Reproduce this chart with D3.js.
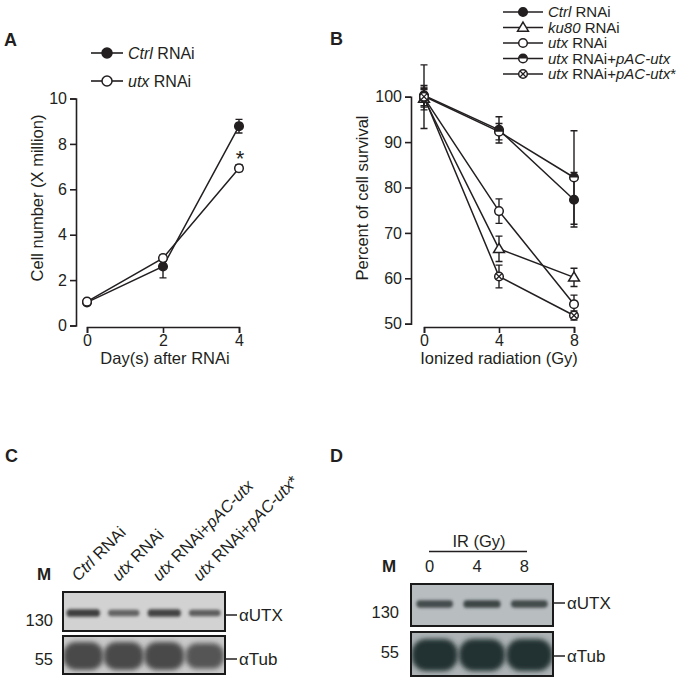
<!DOCTYPE html>
<html><head><meta charset="utf-8">
<script src="https://cdn.jsdelivr.net/npm/d3@7"></script>
<style>
body{margin:0;background:#fff;}
svg text{font-family:"Liberation Sans",Arial,sans-serif;fill:#231f20;}
</style></head><body>
<svg id="c" width="696" height="680"></svg>
<script>
// ---------- Panel A data ----------
const daysA = [0, 2, 4];
const ctrlA = [1.02, 2.6, 8.78];
const ctrlAErr = [0.05, 0.5, 0.3];
const utxA = [1.05, 2.97, 6.93];
const utxAErr = [0.05, 0.12, 0.15];
const yTicksA = [0, 2, 4, 6, 8, 10];
const xTicksA = [0, 2, 4];
const legendA = ["<i>Ctrl</i> RNAi", "<i>utx</i> RNAi"];

// ---------- Panel B data ----------
const doseB = [0, 4, 8];
const ctrlB = [100.3, 92.7, 77.3];
const ctrlBErr = [1.5, 2.9, 6.0];
const ku80B = [99.6, 66.5, 60.2];
const ku80BErr = [2.5, 2.8, 2.0];
const utxB = [99.8, 74.8, 54.3];
const utxBErr = [1.8, 2.7, 2.0];
const rescueB = [100.1, 92.3, 82.2];
const rescueBErr = [2.4, 1.8, 10.3];
const rescueMutB = [100.0, 60.4, 51.8];
const rescueMutBErr = [7.0, 2.5, 1.0];
const yTicksB = [50, 60, 70, 80, 90, 100];
const xTicksB = [0, 4, 8];
const legendB = ["<i>Ctrl</i> RNAi", "<i>ku80</i> RNAi", "<i>utx</i> RNAi", "<i>utx</i> RNAi+<i>pAC-utx</i>", "<i>utx</i> RNAi+<i>pAC-utx</i>*"];

// ---------- Panel C / D blot data ----------
const lanesC = ["<i>Ctrl</i> RNAi", "<i>utx</i> RNAi", "<i>utx</i> RNAi+<i>pAC-utx</i>", "<i>utx</i> RNAi+<i>pAC-utx</i>*"];
const utxBandC = [0.92, 0.6, 0.88, 0.65];
const tubBandC = [1.0, 1.0, 1.0, 0.8];
const lanesD = ["0", "4", "8"];
const utxBandD = [0.8, 0.88, 0.82];
const tubBandD = [1.0, 1.0, 1.0];
const markers = ["130", "55"];
const antibodies = ["\u03b1UTX", "\u03b1Tub"];

const svg = d3.select("#c");
const ink = "#231f20";
const defs = svg.append("defs");
defs.append("filter").attr("id", "blur").attr("x", "-50%").attr("y", "-50%").attr("width", "200%").attr("height", "200%")
  .append("feGaussianBlur").attr("stdDeviation", 1.8);
defs.append("filter").attr("id", "blur2").attr("x", "-50%").attr("y", "-50%").attr("width", "200%").attr("height", "200%")
  .append("feGaussianBlur").attr("stdDeviation", 2.5);

function rich(sel, str) {
  str.split(/(<i>[^<]*<\/i>)/).filter(s => s).forEach(s => {
    const it = s.startsWith("<i>");
    sel.append("tspan").style("font-style", it ? "italic" : "normal").text(it ? s.slice(3, -4) : s);
  });
}

function marker(g, type, x, y, r) {
  const sw = 1.5;
  if (type === "filled") {
    g.append("circle").attr("cx", x).attr("cy", y).attr("r", r).attr("fill", ink).attr("stroke", ink).attr("stroke-width", sw);
  } else if (type === "open") {
    g.append("circle").attr("cx", x).attr("cy", y).attr("r", r).attr("fill", "#fff").attr("stroke", ink).attr("stroke-width", sw);
  } else if (type === "tri") {
    const h = r * 1.15;
    g.append("path").attr("d", `M${x},${y - h * 1.1}L${x + h * 1.1},${y + h * 0.75}L${x - h * 1.1},${y + h * 0.75}Z`)
      .attr("fill", "#fff").attr("stroke", ink).attr("stroke-width", sw);
  } else if (type === "half") {
    g.append("circle").attr("cx", x).attr("cy", y).attr("r", r).attr("fill", "#fff").attr("stroke", ink).attr("stroke-width", sw);
    g.append("path").attr("d", `M${x - r},${y}A${r},${r} 0 0 1 ${x + r},${y}Z`).attr("fill", ink);
  } else if (type === "cross") {
    g.append("circle").attr("cx", x).attr("cy", y).attr("r", r).attr("fill", "#fff").attr("stroke", ink).attr("stroke-width", sw);
    const d = r * 0.7;
    g.append("path").attr("d", `M${x - d},${y - d}L${x + d},${y + d}M${x + d},${y - d}L${x - d},${y + d}`)
      .attr("stroke", ink).attr("stroke-width", 1.2);
  }
}

function styleAxis(g) {
  g.attr("font-size", null).attr("font-family", null);
  g.select(".domain").attr("stroke", ink).attr("stroke-width", 1.6);
  g.selectAll(".tick line").attr("stroke", ink).attr("stroke-width", 1.6);
  g.selectAll(".tick text").attr("font-size", 16).attr("fill", ink);
}

function lineChart(cfg) {
  const g = svg.append("g");
  const x = d3.scaleLinear().domain(cfg.xDomain).range(cfg.xRange);
  const y = d3.scaleLinear().domain(cfg.yDomain).range(cfg.yRange);
  const ya = g.append("g").attr("transform", `translate(${cfg.yAxisX},0)`)
    .call(d3.axisLeft(y).tickValues(cfg.yTicks).tickFormat(d3.format("d")).tickSize(6).tickSizeOuter(6).tickPadding(3));
  styleAxis(ya);
  const xa = g.append("g").attr("transform", `translate(0,${cfg.xAxisY})`)
    .call(d3.axisBottom(x).tickValues(cfg.xTicks).tickFormat(d3.format("d")).tickSize(6).tickSizeOuter(6).tickPadding(2));
  styleAxis(xa);
  const line = d3.line().x((d, i) => x(cfg.xs[i])).y(d => y(d));
  cfg.series.forEach(s => {
    g.append("path").attr("d", line(s.vals)).attr("fill", "none").attr("stroke", ink).attr("stroke-width", 1.5);
  });
  cfg.series.forEach(s => {
    s.vals.forEach((v, i) => {
      const e = s.err[i], cx = x(cfg.xs[i]);
      g.append("path").attr("d", `M${cx},${y(v - e)}V${y(v + e)}M${cx - 3.5},${y(v - e)}H${cx + 3.5}M${cx - 3.5},${y(v + e)}H${cx + 3.5}`)
        .attr("stroke", ink).attr("stroke-width", 1.4).attr("fill", "none");
    });
  });
  cfg.series.forEach(s => {
    s.vals.forEach((v, i) => marker(g, s.sym, x(cfg.xs[i]), y(v), cfg.r));
  });
  g.append("text").attr("transform", `translate(${cfg.yTitleX},${cfg.yTitleY}) rotate(-90)`)
    .attr("text-anchor", "middle").attr("font-size", 16.5).text(cfg.yTitle);
  g.append("text").attr("x", cfg.xTitleX).attr("y", cfg.xTitleY)
    .attr("text-anchor", "middle").attr("font-size", 16.5).text(cfg.xTitle);
  cfg.legend.forEach((lab, i) => {
    const ly = cfg.legY + i * cfg.legDy;
    g.append("line").attr("x1", cfg.legX0).attr("x2", cfg.legX1).attr("y1", ly).attr("y2", ly)
      .attr("stroke", ink).attr("stroke-width", 1.6);
    marker(g, cfg.series[i].sym, (cfg.legX0 + cfg.legX1) / 2, ly, cfg.legR);
    const t = g.append("text").attr("x", cfg.legX1 + 5).attr("y", ly + cfg.legFs * 0.35).attr("font-size", cfg.legFs);
    rich(t, lab);
  });
  return {g, x, y};
}

// Panel A
const A = lineChart({
  xDomain: [0, 4], xRange: [87, 239], yDomain: [0, 10], yRange: [325.5, 98.5],
  yAxisX: 76, xAxisY: 327, yTicks: yTicksA, xTicks: xTicksA, xs: daysA, r: 4.3,
  series: [{vals: ctrlA, err: ctrlAErr, sym: "filled"}, {vals: utxA, err: utxAErr, sym: "open"}],
  yTitle: "Cell number (X million)", yTitleX: 43, yTitleY: 198,
  xTitle: "Day(s) after RNAi", xTitleX: 165, xTitleY: 364,
  legend: legendA, legY: 53, legDy: 28, legX0: 91, legX1: 123, legR: 5, legFs: 16
});
A.g.append("text").attr("x", A.x(4) + 1).attr("y", 166).attr("text-anchor", "middle").attr("font-size", 22).text("*");

// Panel B
lineChart({
  xDomain: [0, 8], xRange: [424, 574], yDomain: [50, 100], yRange: [323.7, 96.7],
  yAxisX: 411, xAxisY: 327, yTicks: yTicksB, xTicks: xTicksB, xs: doseB, r: 4.3,
  series: [
    {vals: ctrlB, err: ctrlBErr, sym: "filled"},
    {vals: ku80B, err: ku80BErr, sym: "tri"},
    {vals: utxB, err: utxBErr, sym: "open"},
    {vals: rescueB, err: rescueBErr, sym: "half"},
    {vals: rescueMutB, err: rescueMutBErr, sym: "cross"}
  ],
  yTitle: "Percent of cell survival", yTitleX: 368, yTitleY: 198,
  xTitle: "Ionized radiation (Gy)", xTitleX: 499, xTitleY: 364,
  legend: legendB, legY: 12, legDy: 15.5, legX0: 503, legX1: 543, legR: 4.3, legFs: 15
});

// Panel letters
[["A", 4, 46], ["B", 330, 45], ["C", 5, 462], ["D", 330, 462]].forEach(([t, x, y]) =>
  svg.append("text").attr("x", x).attr("y", y).attr("font-size", 18).attr("font-weight", "bold").text(t));

// Blots
function blot(cfg) {
  const g = svg.append("g");
  const xb = d3.scaleBand().domain(cfg.lanes).range([cfg.x0, cfg.x1]);
  const boxes = [
    {y0: cfg.utxY0, y1: cfg.utxY1, bg: cfg.bg1, bands: cfg.utxBands, bandY: cfg.utxBandY, bh: cfg.utxBH, bw: cfg.utxBW, col: cfg.bandColor1, f: "url(#blur)"},
    {y0: cfg.tubY0, y1: cfg.tubY1, bg: cfg.bg2, bands: cfg.tubBands, bandY: cfg.tubBandY, bh: cfg.tubBH, bw: cfg.tubBW, col: cfg.bandColor2, f: "url(#blur2)"}
  ];
  boxes.forEach((b, k) => {
    const clip = `clip${cfg.id}${k}`;
    defs.append("clipPath").attr("id", clip).append("rect")
      .attr("x", cfg.x0).attr("y", b.y0).attr("width", cfg.x1 - cfg.x0).attr("height", b.y1 - b.y0);
    const bg = g.append("g").attr("clip-path", `url(#${clip})`);
    bg.append("rect").attr("x", cfg.x0).attr("y", b.y0).attr("width", cfg.x1 - cfg.x0).attr("height", b.y1 - b.y0).attr("fill", b.bg);
    cfg.lanes.forEach((l, i) => {
      const inten = b.bands[i];
      const cx = xb(l) + xb.bandwidth() / 2;
      const w = b.bw * (0.8 + 0.2 * inten), h = b.bh * (0.55 + 0.45 * inten);
      bg.append("rect").attr("x", cx - w / 2).attr("y", b.bandY - h / 2).attr("width", w).attr("height", h)
        .attr("rx", Math.min(w, h) * 0.45).attr("ry", h * 0.45)
        .attr("fill", b.col).attr("opacity", Math.min(1, 0.3 + 0.75 * inten)).attr("filter", b.f);
    });
    g.append("rect").attr("x", cfg.x0).attr("y", b.y0).attr("width", cfg.x1 - cfg.x0).attr("height", b.y1 - b.y0)
      .attr("fill", "none").attr("stroke", "#1a1a1a").attr("stroke-width", 2);
    const ly = k === 0 ? cfg.utxLabY : cfg.tubLabY;
    g.append("line").attr("x1", cfg.x1).attr("x2", cfg.x1 + 12).attr("y1", ly).attr("y2", ly).attr("stroke", ink).attr("stroke-width", 1.5);
    g.append("text").attr("x", cfg.x1 + 14).attr("y", ly + 6).attr("font-size", 17).text(antibodies[k]);
    g.append("text").attr("x", cfg.mwX).attr("y", k === 0 ? cfg.m1Y : cfg.m2Y).attr("text-anchor", "end").attr("font-size", 16.5).text(markers[k]);
  });
  g.append("text").attr("x", cfg.mX).attr("y", cfg.mY).attr("text-anchor", "middle").attr("font-size", 17).attr("font-weight", "bold").text("M");
  return {g, xb};
}

const C = blot({
  id: "C", lanes: lanesC, x0: 63, x1: 225,
  utxY0: 592, utxY1: 631, tubY0: 636, tubY1: 674,
  bg1: "#d2d2d2", bg2: "#cacaca", bandColor1: "#3c3c3c", bandColor2: "#4a4a4a",
  utxBands: utxBandC, utxBandY: 613, utxBH: 8, utxBW: 34,
  tubBands: tubBandC, tubBandY: 656, tubBH: 28, tubBW: 40,
  utxLabY: 615, tubLabY: 659, mwX: 53, m1Y: 626, m2Y: 665, mX: 44, mY: 580
});
lanesC.forEach((l, i) => {
  const cx = C.xb(l) + C.xb.bandwidth() / 2;
  const t = C.g.append("text").attr("transform", `translate(${cx - 5},${582}) rotate(-45)`).attr("font-size", 16.5);
  rich(t, l);
});

const D = blot({
  id: "D", lanes: lanesD, x0: 411, x1: 553,
  utxY0: 584, utxY1: 626, tubY0: 632, tubY1: 676,
  bg1: "#b8bdc0", bg2: "#aeb4b6", bandColor1: "#384040", bandColor2: "#243030",
  utxBands: utxBandD, utxBandY: 604, utxBH: 8, utxBW: 38,
  tubBands: tubBandD, tubBandY: 655, tubBH: 32, tubBW: 46,
  utxLabY: 603, tubLabY: 656, mwX: 399, m1Y: 618, m2Y: 658, mX: 389, mY: 572
});
lanesD.forEach(l => {
  D.g.append("text").attr("x", D.xb(l) + D.xb.bandwidth() / 2 - 5).attr("y", 572).attr("text-anchor", "middle").attr("font-size", 16.5).text(l);
});
D.g.append("text").attr("x", 479).attr("y", 547).attr("text-anchor", "middle").attr("font-size", 16.5).text("IR (Gy)");
D.g.append("line").attr("x1", 429).attr("x2", 527).attr("y1", 551.5).attr("y2", 551.5).attr("stroke", ink).attr("stroke-width", 1.5);
</script></body></html>
